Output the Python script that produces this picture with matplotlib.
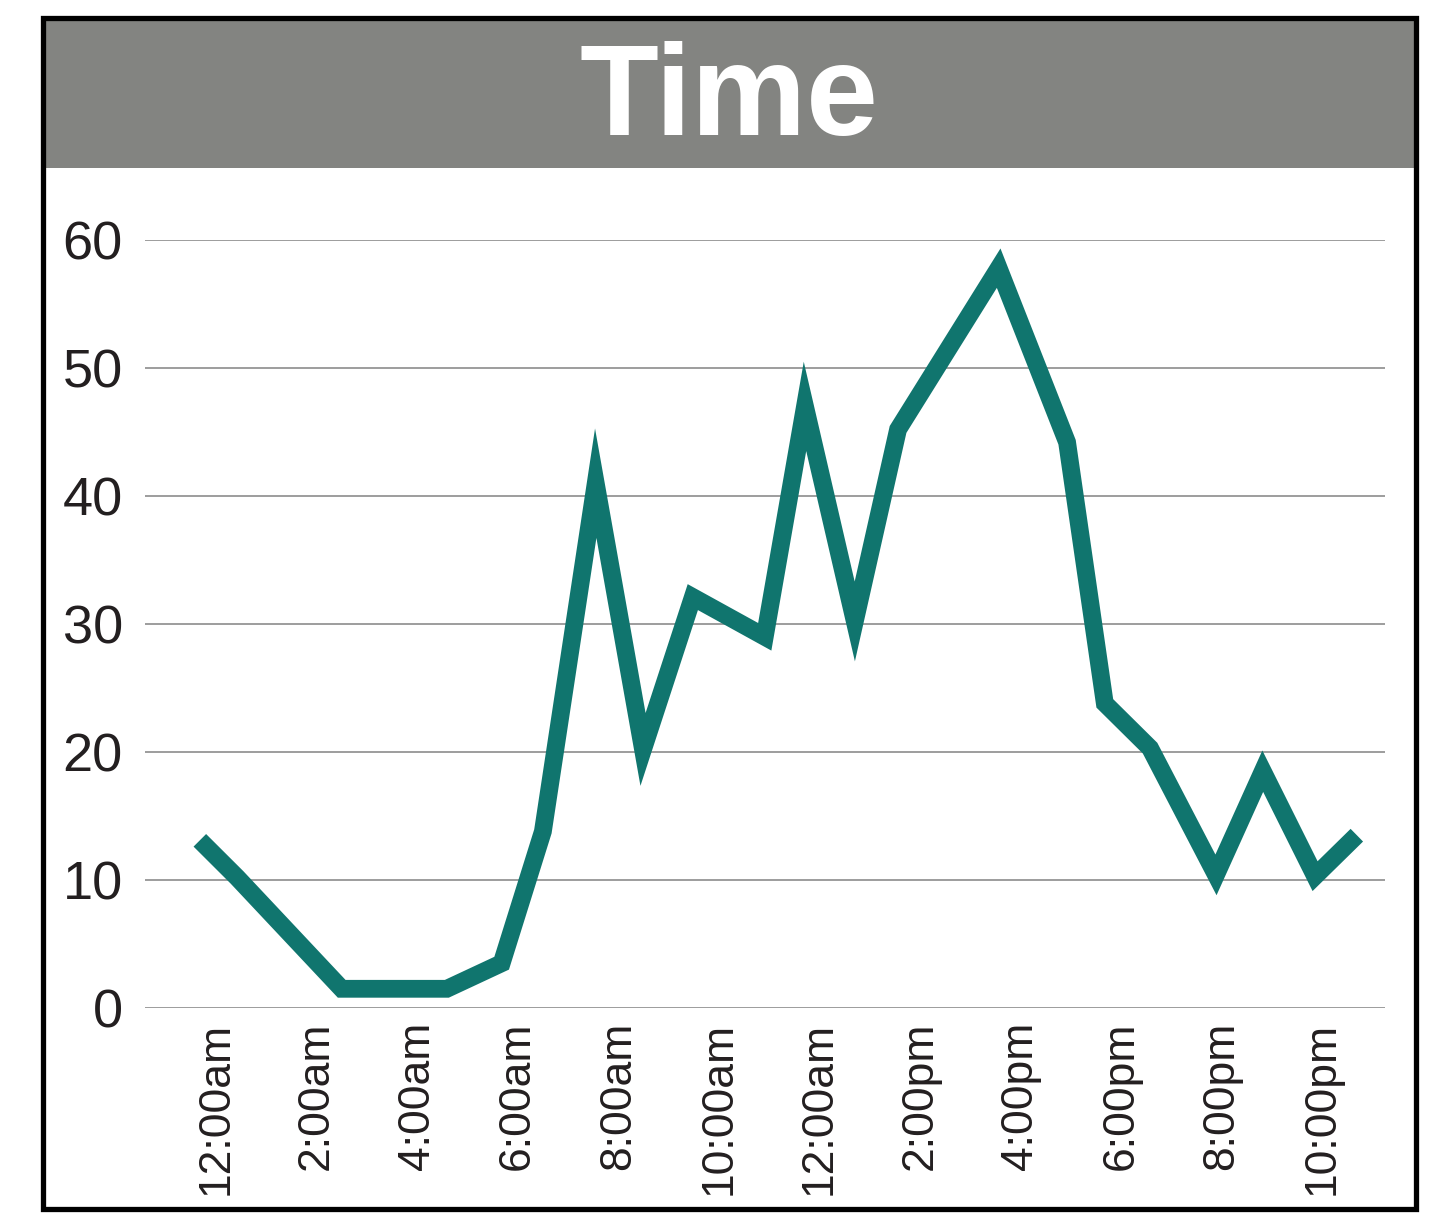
import numpy as np
import matplotlib
matplotlib.use('Agg')
import matplotlib.pyplot as plt
import matplotlib.transforms as mtransforms
from matplotlib.patches import Rectangle

# hours since midnight and values
hours = [0.0, 0.74, 2.82, 4.91, 6.0, 6.82, 7.87, 8.81, 9.8, 11.23, 12.03,
         13.02, 13.88, 15.88, 17.24, 17.99, 18.89, 20.2, 21.13, 22.17, 23.0]
counts = [13.1, 10.2, 1.5, 1.5, 3.5, 13.8, 41.0, 20.2, 32.1, 29.0, 47.0,
          30.2, 45.2, 57.8, 44.2, 23.8, 20.3, 10.4, 18.5, 10.3, 13.5]

tick_hours = [0, 2, 4, 6, 8, 10, 12, 14, 16, 18, 20, 22]
tick_labels = ['12:00am', '2:00am', '4:00am', '6:00am', '8:00am', '10:00am',
               '12:00am', '2:00pm', '4:00pm', '6:00pm', '8:00pm', '10:00pm']
y_ticks = [0, 10, 20, 30, 40, 50, 60]

plt.rcParams['font.family'] = ['Liberation Sans', 'DejaVu Sans']

W, H = 1430, 1213
fig = plt.figure(figsize=(W / 100, H / 100), dpi=100)
fig.patch.set_facecolor('white')

# title bar and outer frame
fig.patches.append(Rectangle((45 / W, 1 - 168 / H), (1414 - 45) / W, (168 - 20) / H,
                             transform=fig.transFigure, facecolor='#838481',
                             edgecolor='none', zorder=0))
fig.patches.append(Rectangle((43 / W, 1 - 1208.5 / H), (1416 - 43) / W, (1208.5 - 18) / H,
                             transform=fig.transFigure, facecolor='none',
                             edgecolor='black', linewidth=3.8, zorder=5))
fig.text(729 / W, 1 - 135 / H, 'Time', ha='center', va='baseline', color='white',
         fontsize=93, fontweight='bold')

ax = fig.add_axes([145 / W, 1 - 1008 / H, (1385 - 145) / W, (1008 - 240) / H])
ax.plot(hours, counts, color='#10756e', linewidth=12.8, solid_joinstyle='miter',
        solid_capstyle='butt', clip_on=False, zorder=3)

ax.set_ylim(0, 60)
ax.set_xlim(-1.09, 23.56)
ax.set_yticks(y_ticks)
ax.set_yticklabels([str(v) for v in y_ticks])
ax.set_xticks(tick_hours)
ax.set_xticklabels(tick_labels, rotation=90, va='top', ha='center')
ax.tick_params(axis='y', length=0, pad=16, labelsize=39, labelcolor='#231f20')
ax.tick_params(axis='x', length=0, pad=10, labelsize=32, labelcolor='#231f20')

# labels sit a little to the right of their hour
offset = mtransforms.ScaledTranslation(0.16, 0, fig.dpi_scale_trans)
for lab in ax.get_xticklabels():
    lab.set_transform(lab.get_transform() + offset)

ax.grid(axis='y', color='#8c8c8c', linewidth=1.2)
ax.set_axisbelow(True)
for s in ax.spines.values():
    s.set_visible(False)

fig.savefig('out.png', dpi=100)
